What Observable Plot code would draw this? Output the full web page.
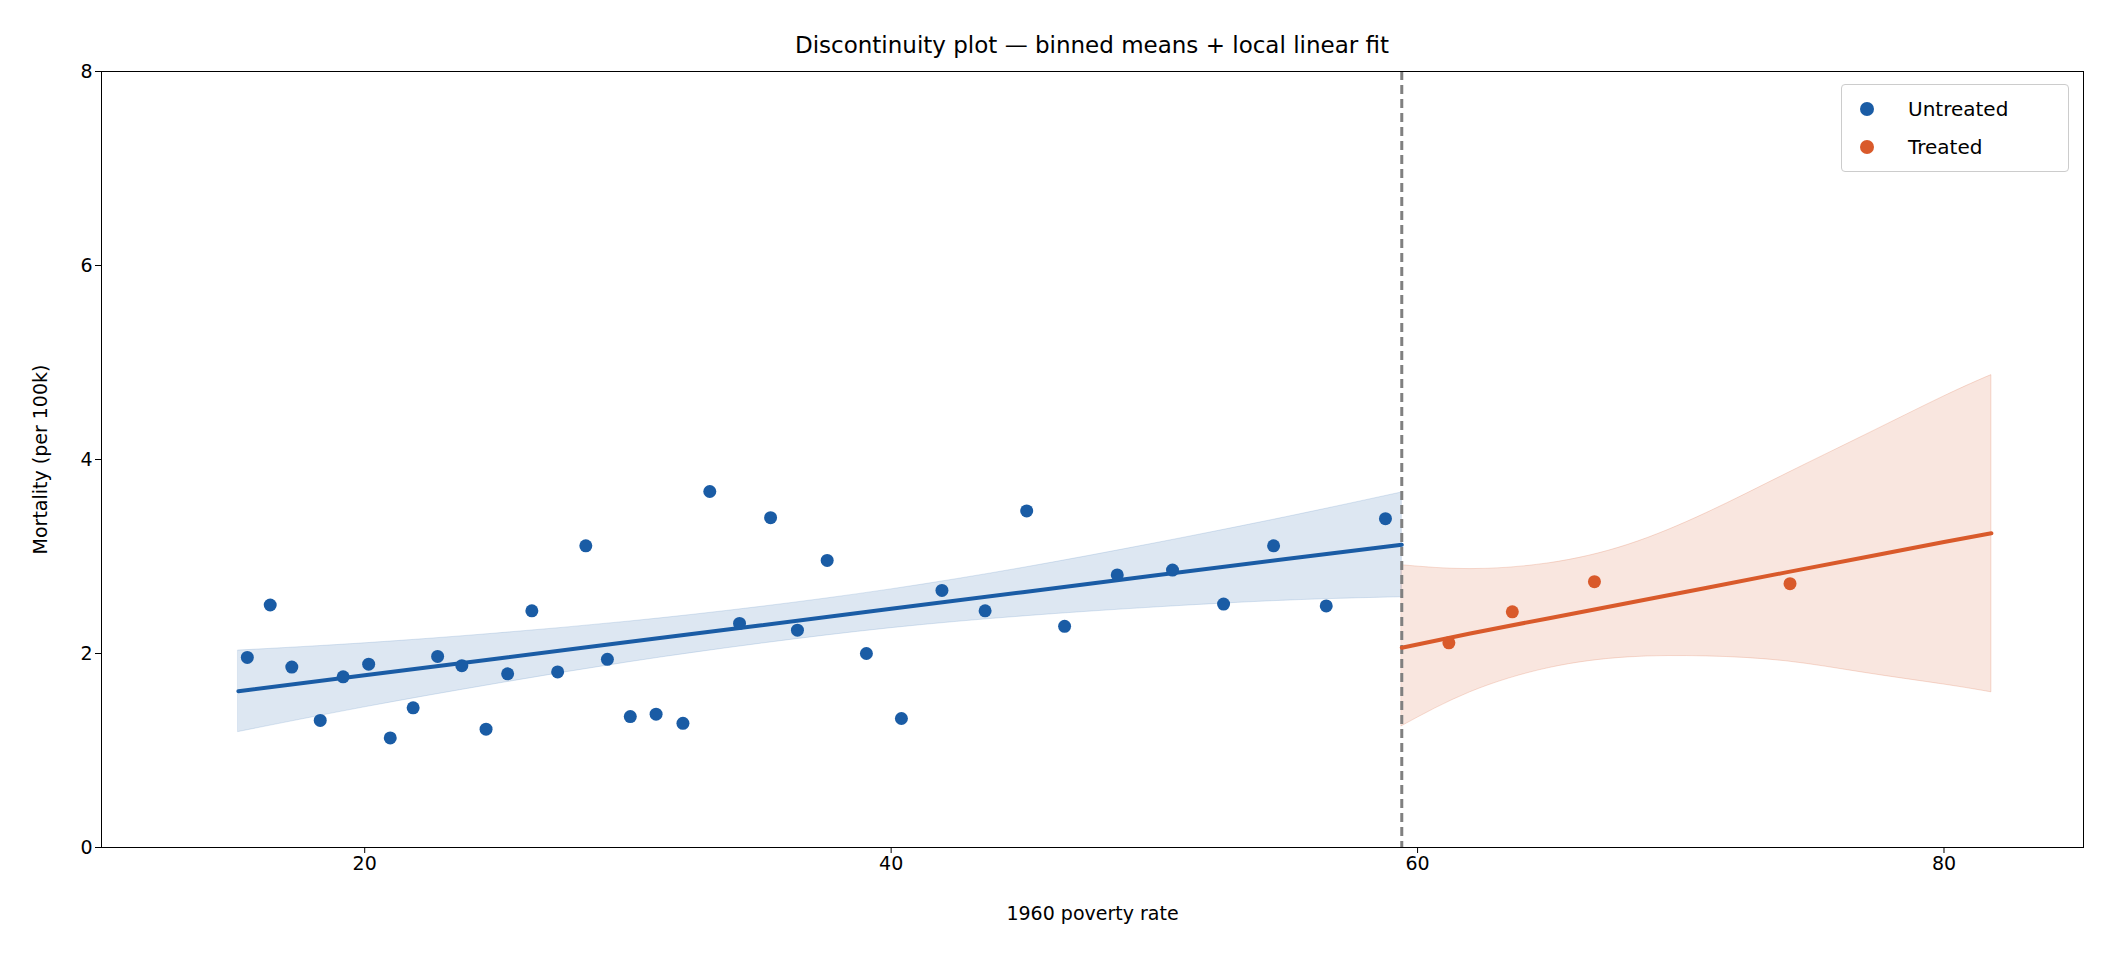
<!DOCTYPE html>
<html><head><meta charset="utf-8">
<script src="https://cdn.jsdelivr.net/npm/d3@7"></script>
<script src="https://cdn.jsdelivr.net/npm/@observablehq/plot@0.6"></script>
<style>
body{margin:0;background:#fff;font-family:"DejaVu Sans",sans-serif;}
#wrap{position:relative;width:2112px;height:960px;}
#title{position:absolute;top:32px;left:101px;width:1982px;text-align:center;font-size:23px;}
#legend{position:absolute;left:1841px;top:84px;width:226px;height:86px;border:1.5px solid #ccc;border-radius:4px;background:#fff;font-size:20px;}
.li{position:absolute;left:18px;display:flex;align-items:center;}
.dot{width:14px;height:14px;border-radius:50%;margin-right:34px;}
</style></head><body>
<div id="wrap"><div id="title">Discontinuity plot — binned means + local linear fit</div>
<div id="chart"></div>
<div id="legend"><div class="li" style="top:12px"><div class="dot" style="background:#1a5ca5"></div>Untreated</div>
<div class="li" style="top:50px"><div class="dot" style="background:#d95a2b"></div>Treated</div></div></div>
<script>
const untreatedX=[15.54,16.41,17.23,18.31,19.18,20.15,20.97,21.84,22.77,23.69,24.61,25.43,26.35,27.33,28.40,29.22,30.09,31.07,32.09,33.11,34.24,35.42,36.44,37.57,39.06,40.39,41.93,43.57,45.15,46.59,48.59,50.69,52.63,54.53,56.53,58.78];
const untreatedY=[1.96,2.50,1.86,1.31,1.76,1.89,1.13,1.44,1.97,1.875,1.22,1.79,2.44,1.81,3.11,1.94,1.35,1.375,1.28,3.67,2.31,3.40,2.24,2.96,2.0,1.33,2.65,2.44,3.47,2.28,2.81,2.86,2.51,3.11,2.49,3.39];
const treatedX=[61.19,63.60,66.72,74.15];
const treatedY=[2.11,2.43,2.74,2.72];
const fitUX=[15.2,20,25,30,35,40,45,50,55,59.4];
const fitUY=[1.61,1.775,1.946,2.118,2.289,2.461,2.632,2.804,2.975,3.12];
const fitULo=[1.19,1.445,1.686,1.908,2.099,2.261,2.382,2.474,2.545,2.58];
const fitUHi=[2.03,2.105,2.206,2.328,2.479,2.661,2.882,3.134,3.405,3.66];
const fitTX=[59.4,62,65,68,71,74,77,80,81.8];
const fitTY=[2.06,2.207,2.364,2.521,2.678,2.836,2.993,3.150,3.24];
const fitTLo=[1.25,1.6,1.85,1.96,1.97,1.92,1.80,1.68,1.60];
const fitTHi=[2.91,2.87,2.93,3.12,3.45,3.85,4.25,4.65,4.87];
const cutoff=59.4;
const xTicks=[20,40,60,80], yTicks=[0,2,4,6,8];
const blue="#1a5ca5", orange="#d95a2b";
const U=untreatedX.map((x,i)=>({x,y:untreatedY[i]}));
const T=treatedX.map((x,i)=>({x,y:treatedY[i]}));
const FU=fitUX.map((x,i)=>({x,y:fitUY[i],lo:fitULo[i],hi:fitUHi[i]}));
const FT=fitTX.map((x,i)=>({x,y:fitTY[i],lo:fitTLo[i],hi:fitTHi[i]}));
const p=Plot.plot({width:2112,height:960,marginLeft:101,marginRight:29,marginTop:71,marginBottom:113,
 style:{fontSize:"19px",fontFamily:"DejaVu Sans",color:"#000"},
 x:{domain:[10,85.3],ticks:xTicks,label:"1960 poverty rate",labelArrow:"none",labelAnchor:"center",labelOffset:72,tickSize:6},
 y:{domain:[0,8],ticks:yTicks,label:"Mortality (per 100k)",labelArrow:"none",labelAnchor:"center",labelOffset:68,tickSize:6},
 marks:[
  Plot.areaY(FU,{x:"x",y1:"lo",y2:"hi",fill:blue,fillOpacity:0.15,stroke:blue,strokeOpacity:0.15,curve:"natural"}),
  Plot.areaY(FT,{x:"x",y1:"lo",y2:"hi",fill:orange,fillOpacity:0.15,stroke:orange,strokeOpacity:0.2,curve:"natural"}),
  Plot.ruleX([cutoff],{stroke:"#808080",strokeWidth:3,strokeDasharray:"9,5"}),
  Plot.line(FU,{x:"x",y:"y",stroke:blue,strokeWidth:4}),
  Plot.line(FT,{x:"x",y:"y",stroke:orange,strokeWidth:4}),
  Plot.dot(U,{x:"x",y:"y",r:6.5,fill:blue}),
  Plot.dot(T,{x:"x",y:"y",r:6.5,fill:orange}),
  Plot.frame({stroke:"#000"})
 ]});
document.getElementById("chart").appendChild(p);
</script></body></html>
